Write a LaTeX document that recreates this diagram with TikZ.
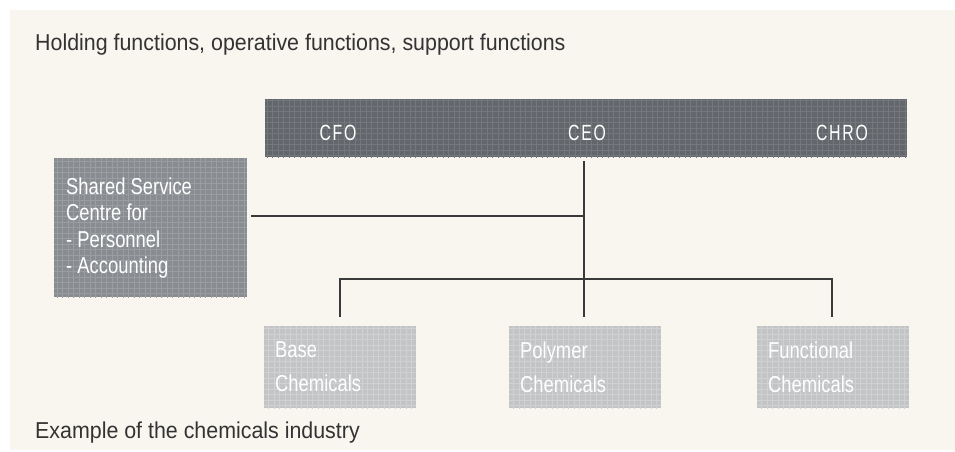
\documentclass[tikz,border=0pt]{standalone}
\usepackage{fontspec}
\setmainfont[FakeStretch=0.80]{Liberation Sans}
\newfontfamily\titlefont[FakeStretch=0.93]{Liberation Sans}
\newfontfamily\spaced[FakeStretch=0.72,LetterSpace=8]{Liberation Sans}
\definecolor{cream}{HTML}{F9F6F0}
\definecolor{barbase}{HTML}{63666B}
\definecolor{bargrid}{HTML}{74777D}
\definecolor{ssbase}{HTML}{898C91}
\definecolor{ssgrid}{HTML}{9A9DA2}
\definecolor{unitbase}{HTML}{C3C4C6}
\definecolor{unitgrid}{HTML}{D0D1D2}
\definecolor{linec}{HTML}{3A3A3A}
\definecolor{textc}{HTML}{333333}
\tikzset{
  gridded/.style 2 args={fill=#1, path picture={
      \draw[#2, line width=1pt, step=5.5pt]
        ([shift={(-2.75pt,-2.75pt)}]path picture bounding box.south west) grid
        (path picture bounding box.north east);}},
  panel/.style={anchor=north west, inner sep=0pt},
  barbox/.style={panel, gridded={barbase}{bargrid}, minimum width=642pt, minimum height=58pt},
  ssbox/.style={panel, gridded={ssbase}{ssgrid}, minimum width=193pt, minimum height=139pt},
  unitbox/.style={panel, gridded={unitbase}{unitgrid}, minimum width=152pt, minimum height=82pt},
  boxtext/.style={anchor=north west, inner sep=0pt, align=left, text=white},
  sstext/.style={boxtext, font=\fontsize{23}{26.5}\selectfont},
  unittext/.style={boxtext, font=\fontsize{23}{34}\selectfont},
  role/.style={anchor=base, text=white, font=\spaced\fontsize{22}{24}\selectfont, inner sep=0pt},
  caption/.style={anchor=base west, text=textc, font=\titlefont\fontsize{23}{25}\selectfont, inner sep=0pt},
  conn/.style={draw=linec, line width=1.2pt}
}
\begin{document}
\begin{tikzpicture}[x=1pt,y=-1pt]
\useasboundingbox (0,0) rectangle (955,452);
\fill[cream] (10,10) rectangle (955,450);

\node[caption] (title) at (35,51) {Holding functions, operative functions, support functions};
\node[caption] (foot) at (35,438) {Example of the chemicals industry};

\node[barbox] (bar) at (265,99) {};
\node[role] (cfo) at (338,140) {CFO};
\node[role] (ceo) at (587,140) {CEO};
\node[role] (chro) at (842,140) {CHRO};

\node[ssbox] (ss) at (54,158) {};
\node[sstext] (sslabel) at (66,177.5) {Shared Service\\Centre for\\- Personnel\\- Accounting};

\node[unitbox] (base) at (264,326) {};
\node[unitbox] (poly) at (509,326) {};
\node[unitbox] (func) at (757,326) {};
\node[unittext] (baselabel) at (275,341.5) {Base\\Chemicals};
\node[unittext] (polylabel) at (520,341.5) {Polymer\\Chemicals};
\node[unittext] (funclabel) at (768,341.5) {Functional\\Chemicals};

\coordinate (top) at (584,161);
\coordinate (mid) at (584,216);
\coordinate (ssend) at (251,216);
\coordinate (lft) at (340,279);
\coordinate (rgt) at (832,279);
\coordinate (baseend) at (340,317);
\coordinate (polyend) at (584,317);
\coordinate (funcend) at (832,317);

\draw[conn] (top) -- (polyend);
\draw[conn] (ssend) -- (mid);
\draw[conn] (baseend) -- (lft) -- (rgt) -- (funcend);
\end{tikzpicture}
\end{document}
